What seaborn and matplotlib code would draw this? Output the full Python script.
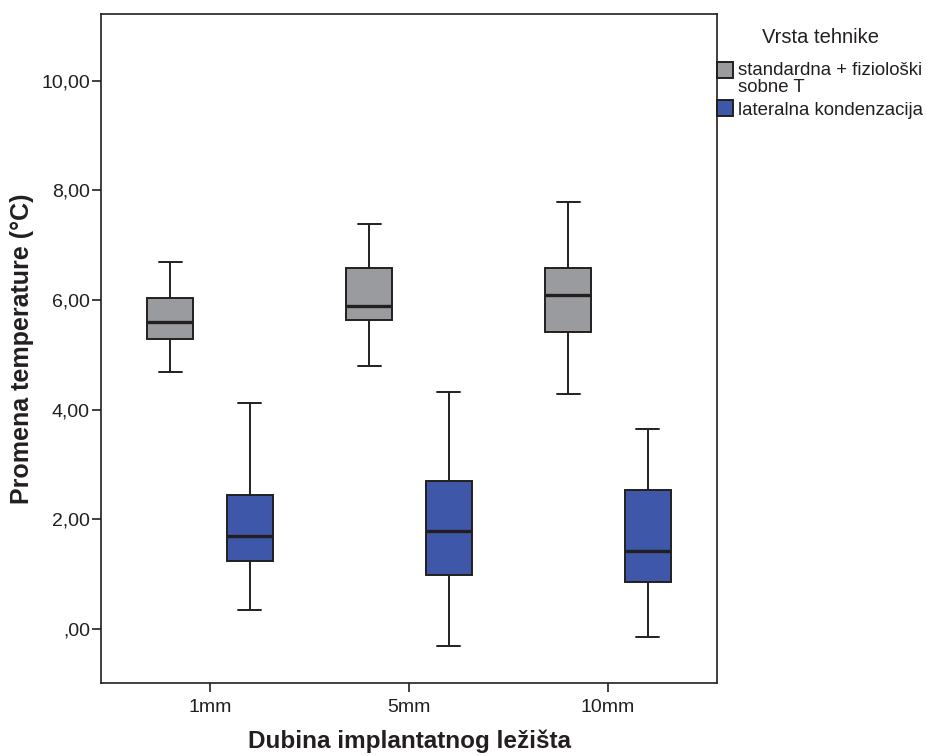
import numpy as np
import pandas as pd
import matplotlib.pyplot as plt
import seaborn as sns
from matplotlib.ticker import FuncFormatter

# depths and techniques
depths = ["1mm", "5mm", "10mm"]
techniques = ["standardna + fiziološki\nsobne T", "lateralna kondenzacija"]

# values: min, Q1, median, Q3, max for each box
standard_1mm = [4.69, 5.29, 5.60, 6.04, 6.70]
standard_5mm = [4.80, 5.64, 5.89, 6.59, 7.39]
standard_10mm = [4.29, 5.42, 6.09, 6.59, 7.79]
lateral_1mm = [0.35, 1.24, 1.70, 2.45, 4.12]
lateral_5mm = [-0.31, 0.99, 1.79, 2.70, 4.32]
lateral_10mm = [-0.15, 0.86, 1.42, 2.54, 3.65]

y_ticks = [0, 2, 4, 6, 8, 10]

box_colors = ["#999b9e", "#3f57a9"]
edge = "#231f20"

# long format table for seaborn
groups = {
    (techniques[0], "1mm"): standard_1mm,
    (techniques[0], "5mm"): standard_5mm,
    (techniques[0], "10mm"): standard_10mm,
    (techniques[1], "1mm"): lateral_1mm,
    (techniques[1], "5mm"): lateral_5mm,
    (techniques[1], "10mm"): lateral_10mm,
}
rows = []
for (tech, depth), vals in groups.items():
    for v in vals:
        rows.append({"Vrsta tehnike": tech, "Dubina": depth, "Promena": v})
df = pd.DataFrame(rows)

sns.set_style("ticks")
plt.rcParams["font.family"] = ["Liberation Sans", "DejaVu Sans"]
plt.rcParams["text.color"] = edge
plt.rcParams["axes.labelcolor"] = edge
plt.rcParams["xtick.color"] = edge
plt.rcParams["ytick.color"] = edge

fig = plt.figure(figsize=(9.26, 7.56), dpi=100)
ax = fig.add_axes([101 / 926, 73 / 756, 616 / 926, 669 / 756])

sns.boxplot(data=df, x="Dubina", y="Promena", hue="Vrsta tehnike",
            order=depths, hue_order=techniques, palette=box_colors,
            saturation=1, width=0.8, gap=0.42, whis=(0, 100),
            linecolor=edge, linewidth=1.4,
            medianprops=dict(linewidth=2.4, color=edge), ax=ax)

ax.set_xlim(-0.548, 2.548)
ax.set_ylim(-0.99, 11.22)
ax.set_yticks(y_ticks)


def spss_fmt(v, pos):
    s = f"{v:.2f}".replace(".", ",")
    if s.startswith("0,"):
        s = s[1:]
    return s


ax.yaxis.set_major_formatter(FuncFormatter(spss_fmt))
ax.tick_params(axis="both", direction="out", length=6.5, width=1.2, labelsize=14)
ax.tick_params(axis="y", pad=1.5)
ax.tick_params(axis="x", pad=5)

for sp in ax.spines.values():
    sp.set_visible(True)
    sp.set_color(edge)
    sp.set_linewidth(1.2)

ax.set_xlabel("Dubina implantatnog ležišta", fontsize=17.5, fontweight="bold", labelpad=10)
ax.set_ylabel("Promena temperature (°C)", fontsize=18, fontweight="bold", labelpad=5)

sns.move_legend(ax, "upper left", bbox_to_anchor=(1.0, 0.979), frameon=False,
                title="Vrsta tehnike", title_fontsize=14.5, fontsize=13.4,
                borderpad=0, borderaxespad=0, handlelength=0.86, handleheight=0.97,
                handletextpad=0.27, labelspacing=0.2)
leg = ax.get_legend()
for t in leg.get_texts():
    t.set_linespacing(1.0)
# more room between the legend title and the entries
leg._legend_box.sep = 11
# lift the first swatch next to the first line of its two-line label
h0 = leg.legend_handles[0]
h0.set_y(h0.get_y() + 7)

fig.savefig("out.png", dpi=100)
